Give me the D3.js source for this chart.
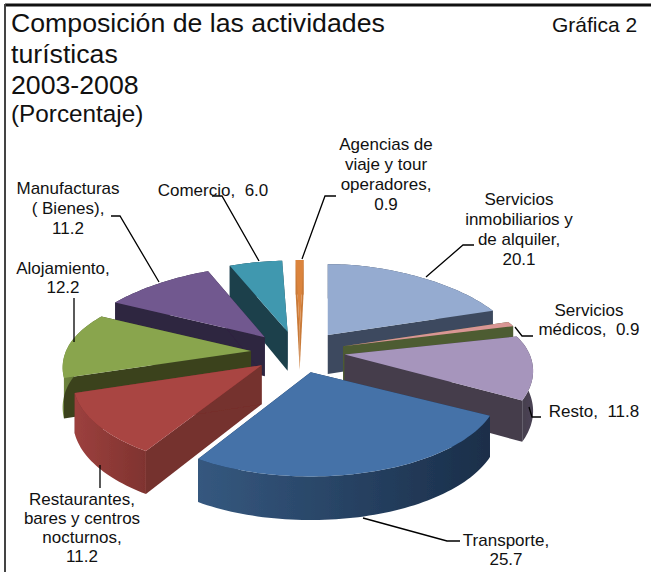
<!DOCTYPE html>
<html><head><meta charset="utf-8">
<style>html,body{margin:0;padding:0;background:#fff}svg{display:block}text{font-family:"Liberation Sans",Arial,sans-serif;fill:#111}</style>
<script src="https://cdn.jsdelivr.net/npm/d3@7"></script>
</head><body><svg id="c" width="651" height="572"></svg>
<script>
const categories=["Servicios inmobiliarios y de alquiler","Servicios médicos","Resto","Transporte","Restaurantes, bares y centros nocturnos","Alojamiento","Manufacturas (Bienes)","Comercio","Agencias de viaje y tour operadores"];
const values=[20.1,0.9,11.8,25.7,11.2,12.2,11.2,6.0,0.9];
const topColors=["#95abd0","#d99694","#a695bc","#4472a8","#a94442","#89a54e","#71588f","#4198af","#db843d"];
const wallColors=["#3d4a5e","#4e5b31","#443d4c","#1f3554","#75302d","#3b431f","#2f2540","#1c3f4b","#c97a38"];
const rimLeft=["#3d4a5e","#4e5b31","#443d4c","#35587f","#9c403e","#6f863f","#2f2540","#1c3f4b","#c97a38"];
const rimRight=["#3d4a5e","#4e5b31","#4a4354","#1a2e49","#7f332f","#4a5628","#2f2540","#1c3f4b","#c97a38"];
const paintOrder=[8,0,7,1,6,5,2,4,3];
const sliceShiftX=[2,0,0,0,0,0,0,1,3];
const sliceTurn=[0,0,1.5,0,1,1.5,1.5,1,1.6];
const titleLines=["Composición de las actividades","turísticas","2003-2008"];
const titleBase=[32,63,94];
const labels=[
 {lines:["Servicios","inmobiliarios y","de alquiler,","20.1"],x:519,y:[205,225,245,265]},
 {lines:["Servicios","médicos,\u00a0 0.9"],x:589,y:[316,335]},
 {lines:["Resto,\u00a0 11.8"],x:594,y:[417]},
 {lines:["Transporte,","25.7"],x:506,y:[546,565]},
 {lines:["Restaurantes,","bares y centros","nocturnos,","11.2"],x:82,y:[505,524,543,562]},
 {lines:["Alojamiento,","12.2"],x:63,y:[274,293]},
 {lines:["Manufacturas","( Bienes),","11.2"],x:68,y:[194,214,234]},
 {lines:["Comercio,\u00a0 6.0"],x:213,y:[196]},
 {lines:["Agencias de","viaje y tour","operadores,","0.9"],x:386,y:[150,170,190,210]}];
const leaders=[[[426,277],[463,245],[474,245]],[[515,327],[522,336],[533,336]],[[529,407],[532,417],[541,417]],[[363,518],[447,541],[460,541]],[[100,465],[100,488]],[[74,342],[74,298]],[[159,282],[120,216],[111,216]],[[259,261],[222,196],[212,196]],[[302,259],[325,196],[336,196]]];

const svg=d3.select("#c");
const cx=298,cy=352,exX=47,exY=21,F=185,G=84.4,K=0.19,T=39;
const pie=d3.pie().sort(null).value(d=>d)(values);
const line=d3.line();
function rimPt(ap,a){const X=Math.sin(a),Y=Math.cos(a),s=1/(1+K*Y),b=Y>0?1-0.11*Y*Y:1;return [ap[0]+F*X*s*b,ap[1]-G*Y*s,Y];}
const down=p=>[p[0],p[1]+T*(1-(p[2]===undefined?0:p[2])*0.12)];
const defs=svg.append("defs");
defs.append("filter").attr("id","soft").append("feGaussianBlur").attr("stdDeviation",0.5);
const pieLayer=svg.append("g").attr("filter","url(#soft)");
paintOrder.forEach(i=>{
  const d=pie[i],turn=sliceTurn[i]*Math.PI/180,a0=d.startAngle+turn,a1=d.endAngle+turn,mid=(d.startAngle+d.endAngle)/2;
  const ap=[cx+exX*Math.sin(mid)+sliceShiftX[i],cy-exY*Math.cos(mid)];
  const n=Math.max(4,Math.ceil((a1-a0)*40));
  const arc=d3.range(n+1).map(k=>rimPt(ap,a0+(a1-a0)*k/n));
  const g=defs.append("linearGradient").attr("id","r"+i);
  g.append("stop").attr("offset",0).attr("stop-color",rimLeft[i]);
  g.append("stop").attr("offset",1).attr("stop-color",rimRight[i]);
  const gs=pieLayer.append("g").attr("class","slice");
  gs.append("path").attr("d",line([ap,arc[0],down(arc[0]),down(ap)])+"Z").attr("fill",wallColors[i]);
  gs.append("path").attr("d",line([ap,arc[n],down(arc[n]),down(ap)])+"Z").attr("fill",wallColors[i]);
  gs.append("path").attr("d",line(arc.concat(arc.map(down).reverse()))+"Z").attr("fill","url(#r"+i+")");
  gs.append("path").attr("d",line([ap,...arc])+"Z").attr("fill",topColors[i]);
});
leaders.forEach(l=>svg.append("path").attr("d",line(l)).attr("fill","none").attr("stroke","#000").attr("stroke-width",1.3));
labels.forEach(l=>l.lines.forEach((t,i)=>svg.append("text").attr("x",l.x).attr("y",l.y[i]).attr("text-anchor","middle").attr("font-size",17).text(t)));
titleLines.forEach((t,i)=>svg.append("text").attr("x",11).attr("y",titleBase[i]).attr("font-size",26.7).text(t));
svg.append("text").attr("x",11).attr("y",122).attr("font-size",24.3).text("(Porcentaje)");
svg.append("text").attr("x",552).attr("y",32).attr("font-size",21).text("Gráfica 2");
svg.append("path").attr("d",line([[5,5],[651,5]])).attr("stroke","#111").attr("stroke-width",3);
svg.append("path").attr("d",line([[5,4],[5,572]])).attr("stroke","#444").attr("stroke-width",2);
</script></body></html>
